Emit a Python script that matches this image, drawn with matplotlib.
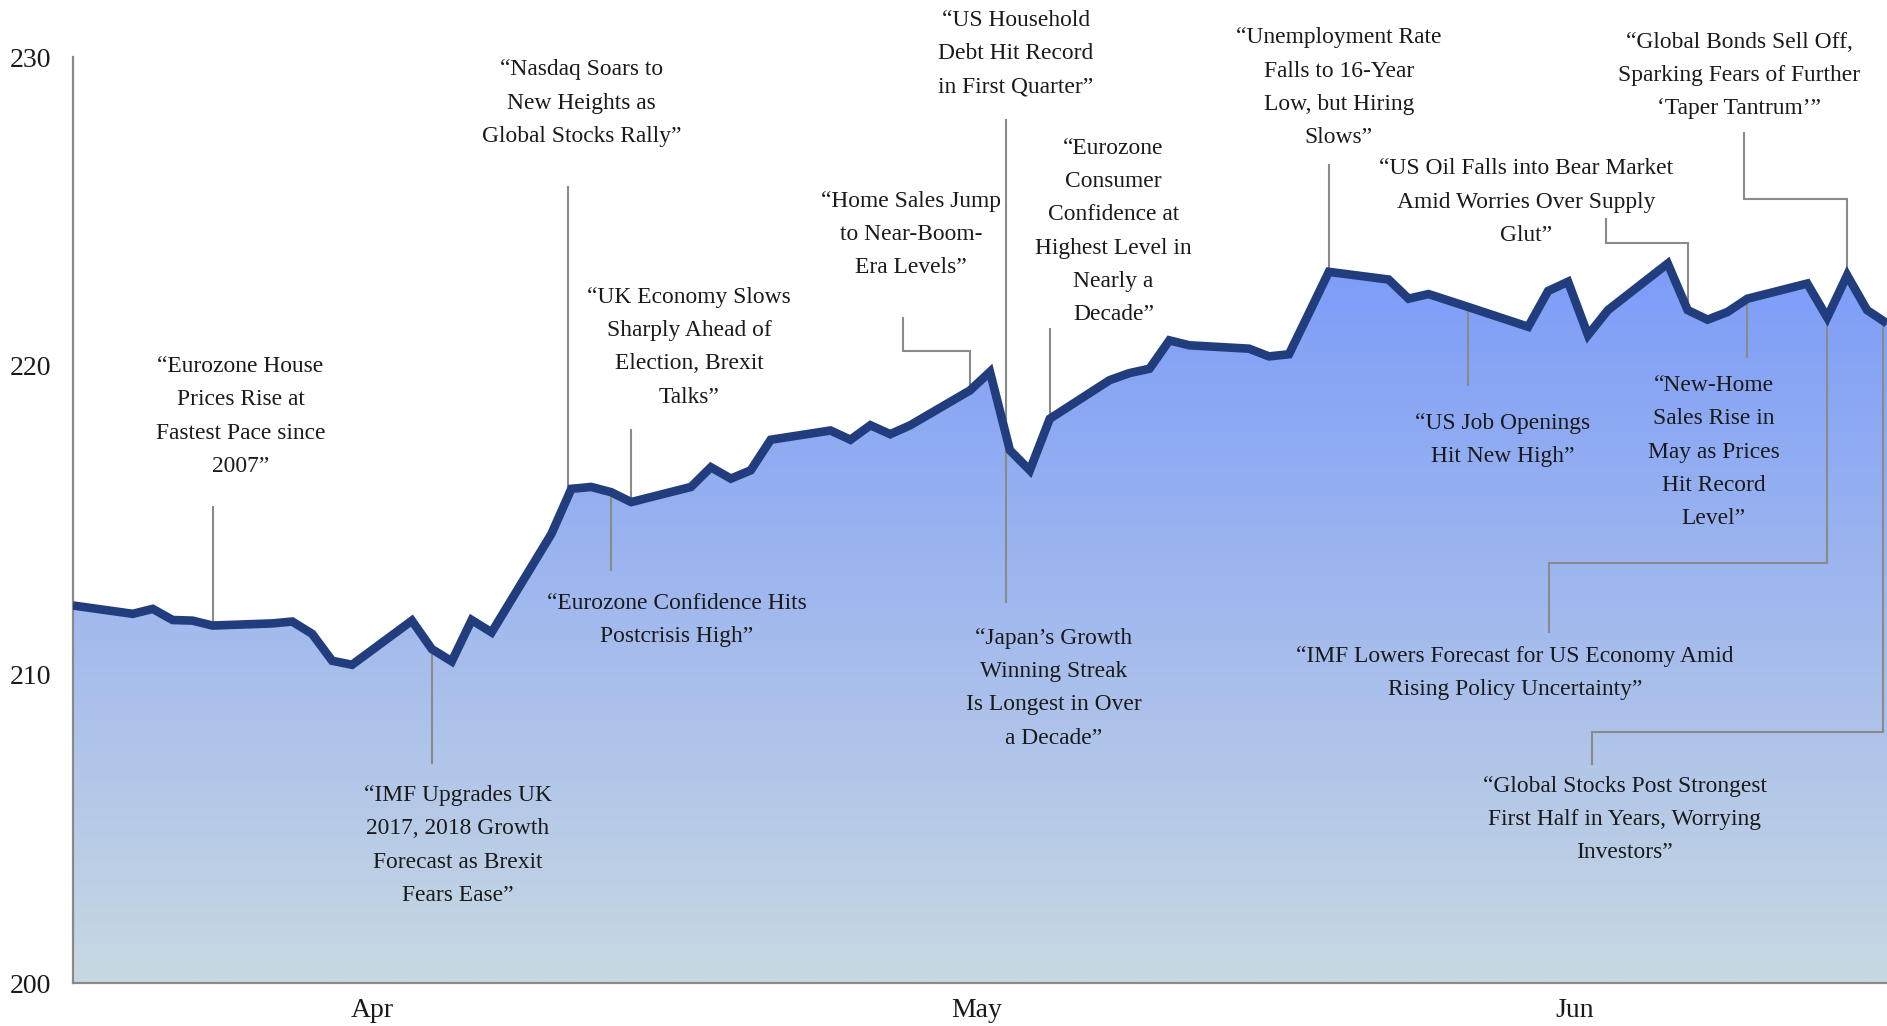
import numpy as np
import pandas as pd
import matplotlib
matplotlib.use("Agg")
import matplotlib.pyplot as plt
import matplotlib.dates as mdates

plt.rcParams['font.family'] = ['Liberation Serif', 'DejaVu Serif']

# index level, one value per weekday (31 Mar - 30 Jun 2017)
dates = pd.bdate_range("2017-03-31", "2017-06-30")
values = [
    212.23,
    211.96, 212.12, 211.76, 211.74, 211.58,
    211.65, 211.71, 211.31, 210.44, 210.31,
    211.74, 210.82, 210.42, 211.76, 211.36,
    214.55, 216.01, 216.07, 215.90, 215.58,
    216.07, 216.71, 216.34, 216.61, 217.60,
    217.90, 217.60, 218.07, 217.78, 218.07,
    219.20, 219.80, 217.26, 216.61, 218.28,
    219.53, 219.76, 219.90, 220.82, 220.66,
    220.55, 220.30, 220.37, 221.70, 223.04,
    222.79, 222.17, 222.32, 222.11, 221.90,
    221.26, 222.42, 222.72, 220.99, 221.80,
    223.31, 221.80, 221.49, 221.74, 222.17,
    222.66, 221.56, 222.93, 221.80, 221.37,
]
series = pd.Series(values, index=dates)

y_ticks = [200, 210, 220, 230]
month_labels = ["Apr", "May", "Jun"]
month_pos = ["2017-04-15", "2017-05-15 08:00", "2017-06-14 08:00"]

# headlines: text, anchor date
headlines = [
    "\u201cEurozone House\nPrices Rise at\nFastest Pace since\n2007\u201d",
    "\u201cIMF Upgrades UK\n2017, 2018 Growth\nForecast as Brexit\nFears Ease\u201d",
    "\u201cNasdaq Soars to\nNew Heights as\nGlobal Stocks Rally\u201d",
    "\u201cUK Economy Slows\nSharply Ahead of\nElection, Brexit\nTalks\u201d",
    "\u201cEurozone Confidence Hits\nPostcrisis High\u201d",
    "\u201cHome Sales Jump\nto Near-Boom-\nEra Levels\u201d",
    "\u201cUS Household\nDebt Hit Record\nin First Quarter\u201d",
    "\u201cJapan\u2019s Growth\nWinning Streak\nIs Longest in Over\na Decade\u201d",
    "\u201cEurozone\nConsumer\nConfidence at\nHighest Level in\nNearly a\nDecade\u201d",
    "\u201cUnemployment Rate\nFalls to 16-Year\nLow, but Hiring\nSlows\u201d",
    "\u201cUS Oil Falls into Bear Market\nAmid Worries Over Supply\nGlut\u201d",
    "\u201cUS Job Openings\nHit New High\u201d",
    "\u201cGlobal Bonds Sell Off,\nSparking Fears of Further\n\u2018Taper Tantrum\u2019\u201d",
    "\u201cNew-Home\nSales Rise in\nMay as Prices\nHit Record\nLevel\u201d",
    "\u201cIMF Lowers Forecast for US Economy Amid\nRising Policy Uncertainty\u201d",
    "\u201cGlobal Stocks Post Strongest\nFirst Half in Years, Worrying\nInvestors\u201d",
]
anchor_dates = ["2017-04-07", "2017-04-18", "2017-04-25", "2017-04-28",
                "2017-04-27", "2017-05-15", "2017-05-17", "2017-05-17",
                "2017-05-19", "2017-06-02", "2017-06-20", "2017-06-09",
                "2017-06-28", "2017-06-23", "2017-06-27", "2017-06-30"]

# layout: text centre (days after 31 Mar, level) and leader waypoints
text_pos = [(8.4, 218.35), (19.3, 204.45), (25.5, 228.5), (30.9, 220.6),
            (30.3, 211.75), (42.05, 224.25), (47.3, 230.1), (49.2, 209.55),
            (52.2, 224.35), (63.5, 229.0), (72.9, 225.3), (71.7, 217.6),
            (83.6, 229.4), (82.3, 217.2), (72.35, 210.05), (77.85, 205.3)]
leader_pts = [
    [(7, 215.42)],
    [(18, 207.13)],
    [(24.85, 225.80)],
    [(28, 217.91)],
    [(27, 213.38)],
    [(41.63, 221.56), (41.63, 220.48), (45, 220.48)],
    [(46.8, 227.96)],
    [(46.8, 212.34)],
    [(49, 221.18)],
    [(63, 226.50)],
    [(76.92, 224.75), (76.92, 223.96), (81, 223.96)],
    [(70, 219.37)],
    [(83.85, 227.55), (83.85, 225.41), (89, 225.41)],
    [(84, 220.29)],
    [(74.05, 211.37), (74.05, 213.61), (88, 213.61)],
    [(76.22, 207.09), (76.22, 208.13), (90.8, 208.13)],
]

day0 = pd.Timestamp("2017-03-31")
def dpos(d):
    return day0 + pd.Timedelta(days=d)

W, H = 1887, 1026
fig = plt.figure(figsize=(W / 100, H / 100), dpi=100)
ax = fig.add_axes([73 / W, 1 - 983 / H, (W - 73) / W, (983 - 57) / H])

x0 = mdates.date2num(dates[0])
x1 = mdates.date2num(dates[-1])
ax.set_xlim(x0, x1)
ax.set_ylim(200, 230)

# gradient fill under the line
top = np.array([103, 139, 255]) / 255
bot = np.array([200, 216, 226]) / 255
t = np.linspace(0, 1, 256)[:, None]
grad = (top * (1 - t) + bot * t)[:, None, :]
poly = ax.fill_between(dates, series.values, 200, color="none", lw=0)
im = ax.imshow(grad, extent=[x0, x1, 200, 230], aspect="auto", origin="upper",
               zorder=1, interpolation="bilinear")
im.set_clip_path(poly.get_paths()[0], transform=ax.transData)

ax.plot(dates, series.values, color="#223d7d", lw=6.2, zorder=4,
        solid_joinstyle="miter", solid_capstyle="butt")

lead_col = "#8a8a8a"
for txt, (tx, ty), pts, ad in zip(headlines, text_pos, leader_pts, anchor_dates):
    ax.text(dpos(tx), ty, txt, ha="center", va="center", multialignment="center",
            fontsize=16.9, color="#1a1a1a", linespacing=1.77, zorder=5)
    ad = pd.Timestamp(ad)
    end_x = dpos(pts[-1][0])
    xs = [dpos(p[0]) for p in pts] + [end_x]
    ys = [p[1] for p in pts] + [series[ad]]
    ax.plot(xs, ys, color=lead_col, lw=1.5, zorder=3, solid_joinstyle="miter",
            clip_on=False)

for s in ["top", "right"]:
    ax.spines[s].set_visible(False)
for s in ["left", "bottom"]:
    ax.spines[s].set_color("#8a8a8a")
    ax.spines[s].set_linewidth(1.6)
ax.set_yticks(y_ticks)
ax.set_yticklabels([str(v) for v in y_ticks])
ax.set_xticks([mdates.date2num(pd.Timestamp(m)) for m in month_pos])
ax.set_xticklabels(month_labels)
ax.tick_params(axis="both", length=0, labelsize=20, colors="#1a1a1a")
ax.tick_params(axis="y", pad=16)
ax.tick_params(axis="x", pad=11)

fig.savefig("out.png", dpi=100)
